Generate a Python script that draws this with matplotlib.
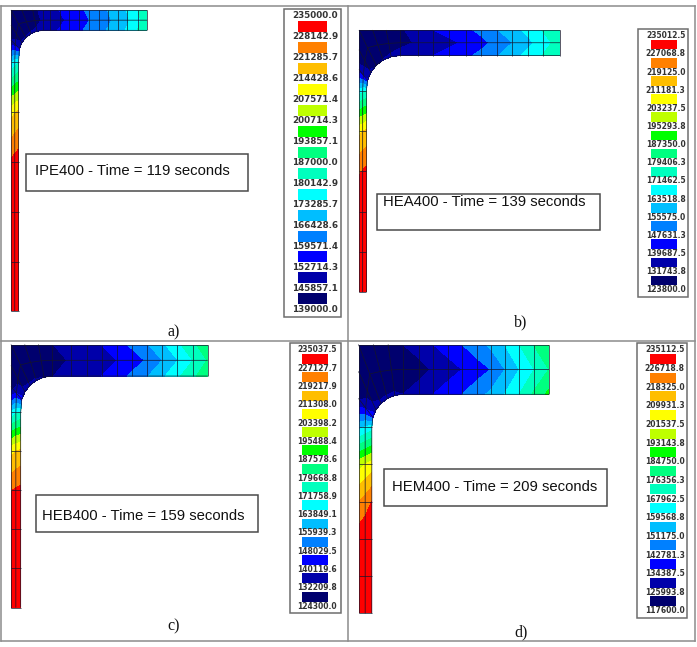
import numpy as np
import matplotlib
matplotlib.use("Agg")
import matplotlib.pyplot as plt
from matplotlib.patches import Rectangle

W, H = 697, 647

# Stress bands shared by all sections, low to high
BAND_COLORS = ["#00006e", "#0000aa", "#0000ff", "#0080ff", "#00beff", "#00ffff", "#00ffbe",
               "#00ff80", "#00ff00", "#beff00", "#ffff00", "#ffbe00", "#ff8000", "#ff0000"]

IPE_LEVELS = [235000.0, 228142.9, 221285.7, 214428.6, 207571.4, 200714.3, 193857.1, 187000.0,
              180142.9, 173285.7, 166428.6, 159571.4, 152714.3, 145857.1, 139000.0]
HEA_LEVELS = [235012.5, 227068.8, 219125.0, 211181.3, 203237.5, 195293.8, 187350.0, 179406.3,
              171462.5, 163518.8, 155575.0, 147631.3, 139687.5, 131743.8, 123800.0]
HEB_LEVELS = [235037.5, 227127.7, 219217.9, 211308.0, 203398.2, 195488.4, 187578.6, 179668.8,
              171758.9, 163849.1, 155939.3, 148029.5, 140119.6, 132209.8, 124300.0]
HEM_LEVELS = [235112.5, 226718.8, 218325.0, 209931.3, 201537.5, 193143.8, 184750.0, 176356.3,
              167962.5, 159568.8, 151175.0, 142781.3, 134387.5, 125993.8, 117600.0]

# Mesh stations in mm: web measured from the flange top, flange from the web axis
IPE_WEB_Y = [200.0, 167.3, 134.0, 101.3, 68.0, 34.7]
IPE_FLANGE_X = [26.0, 32.5, 38.7, 45.1, 51.8, 58.5, 64.2, 70.9, 77.1, 83.8, 90.0]
HEA_WEB_Y = [195.0, 164.9, 135.1, 105.2, 75.4, 45.5]
HEA_FLANGE_X = [44.3, 55.5, 67.4, 79.6, 90.8, 102.7, 114.4, 125.9, 137.5, 150.0]
HEB_WEB_Y = [200.0, 170.0, 140.3, 110.6, 81.0, 51.6]
HEB_FLANGE_X = [45.8, 57.8, 69.2, 80.7, 92.1, 104.1, 115.5, 127.0, 138.7, 150.0]
HEM_WEB_Y = [216.0, 185.9, 156.2, 126.3, 96.0, 66.3]
HEM_FLANGE_X = [48.9, 60.1, 71.6, 83.4, 94.9, 106.2, 117.7, 129.2, 141.2, 153.0]

# Nodal stress along the section: web foot, up the web, round the root, out to the flange tip.
# "outer" runs along the web axis and flange top, "inner" along the web face and flange underside.
IPE_OUTER = [235000, 235000, 235000, 229500, 212000, 173000,
             146000, 140000, 140000, 141000, 144000, 148000,
             151000, 153000, 155500, 158200, 161000, 164000, 166700, 170300, 173900, 180000, 185000]
IPE_MID = [235000, 235000, 235000, 231000, 214000, 177000,
           150000, 141000, 140000, 141000, 143000, 147000,
           149500, 151500, 154000, 156700, 159500, 162500, 165200, 168800, 172400, 178500, 183500]
IPE_INNER = [235000, 235000, 235000, 232500, 216000, 180000,
             153000, 146500, 146000, 146500, 147500, 149500,
             151300, 153300, 155800, 158500, 161300, 164300, 167000, 170600, 174200, 180300, 185300]

HEA_OUTER = [235000, 235000, 235000, 226000, 209000, 167000,
             134000, 126000, 125000, 126000, 127000, 130000,
             137000, 139700, 142500, 145500, 150000, 155000, 160000, 166000, 172000, 178000]
HEA_MID = [235000, 235000, 235000, 227500, 211000, 170000,
           138000, 127000, 125000, 126000, 128000, 130000,
           132500, 135000, 138000, 141000, 144500, 150500, 155500, 161000, 168000, 175000]
HEA_INNER = [235000, 235000, 235000, 229000, 213000, 172000,
             141000, 133000, 131000, 132000, 133000, 134000,
             137000, 139700, 142500, 145500, 150000, 155000, 160000, 166000, 172000, 178000]

HEB_OUTER = [235000, 235000, 235000, 226500, 209000, 165000,
             126000, 125000, 125000, 126000, 126000, 132000,
             135000, 138000, 140200, 144500, 149500, 155500, 162500, 170000, 178000, 185000]
HEB_MID = [235000, 235000, 235000, 228000, 211000, 170000,
           140000, 127000, 125000, 126000, 126000, 129500,
           133000, 135500, 137500, 140000, 144000, 149000, 156000, 163500, 171700, 180000]
HEB_INNER = [235000, 235000, 235000, 229000, 213000, 172000,
             143000, 135000, 133000, 133000, 132000, 132000,
             135000, 138000, 140200, 144500, 149500, 155500, 162500, 170000, 178000, 185000]

HEM_OUTER = [235000, 235000, 232000, 218000, 198000, 156000,
             125000, 119000, 118000, 118000, 119000, 126000,
             130000, 134400, 138500, 142800, 148000, 153000, 160000, 168000, 177000, 185000]
HEM_MID = [235000, 235000, 234000, 222000, 201500, 160000,
           133000, 120000, 118000, 119000, 120000, 120000,
           123000, 127000, 130500, 134500, 138500, 142800, 151200, 159600, 168000, 176400]
HEM_INNER = [235000, 235000, 235000, 227000, 205000, 164000,
             140000, 130000, 127000, 127000, 127000, 126000,
             130000, 134400, 138500, 142800, 148000, 153000, 160000, 168000, 178000, 187000]

PANELS = [
    dict(title="IPE400 - Time = 119 seconds", tag="a)", levels=IPE_LEVELS,
         web_y=IPE_WEB_Y, flange_x=IPE_FLANGE_X, outer=IPE_OUTER, mid=IPE_MID, inner=IPE_INNER,
         half_b=90.0, half_h=200.0, tf=13.5, tw=5.0, r=16.5, origin=(11, 10), px_mm=(1.511, 1.505),
         box=(25.5, 154, 222, 37), text=(35, 171), tag_xy=(174, 332),
         key=(283.5, 9, 57.5, 308), swatch_x=(297.7, 327.3), label_x=315, first_label=16, step=20.95,
         swatch_top=5, swatch_h=11, font=6.3),
    dict(title="HEA400 - Time = 139 seconds", tag="b)", levels=HEA_LEVELS,
         web_y=HEA_WEB_Y, flange_x=HEA_FLANGE_X, outer=HEA_OUTER, mid=HEA_MID, inner=HEA_INNER,
         half_b=150.0, half_h=195.0, tf=19.0, tw=5.5, r=25.0, origin=(359, 30), px_mm=(1.34, 1.344),
         box=(376.5, 194, 223, 36), text=(383, 202), tag_xy=(521, 322),
         key=(638.3, 29, 50, 267.5), swatch_x=(650.7, 676.7), label_x=665.7, first_label=35.7, step=18.16,
         swatch_top=4, swatch_h=9.7, font=5.5),
    dict(title="HEB400 - Time = 159 seconds", tag="c)", levels=HEB_LEVELS,
         web_y=HEB_WEB_Y, flange_x=HEB_FLANGE_X, outer=HEB_OUTER, mid=HEB_MID, inner=HEB_INNER,
         half_b=150.0, half_h=200.0, tf=24.0, tw=7.4, r=24.0, origin=(11, 344.5), px_mm=(1.311, 1.315),
         box=(35.5, 495, 222.5, 37), text=(42, 516), tag_xy=(174, 626),
         key=(290, 343.3, 50.7, 269.4), swatch_x=(302.3, 328.3), label_x=317, first_label=350, step=18.29,
         swatch_top=4, swatch_h=10, font=5.5),
    dict(title="HEM400 - Time = 209 seconds", tag="d)", levels=HEM_LEVELS,
         web_y=HEM_WEB_Y, flange_x=HEM_FLANGE_X, outer=HEM_OUTER, mid=HEM_MID, inner=HEM_INNER,
         half_b=153.0, half_h=216.0, tf=40.0, tw=10.7, r=25.0, origin=(358.5, 344.5), px_mm=(1.245, 1.245),
         box=(384, 469, 223, 37), text=(392, 487), tag_xy=(521, 632),
         key=(637.3, 342.5, 50, 275.5), swatch_x=(650, 676), label_x=664.7, first_label=350, step=18.64,
         swatch_top=4, swatch_h=10, font=5.5),
]


def section_mesh(p):
    """Curvilinear 3 x n node grid wrapped round the root fillet of a quarter section."""
    y_end, x_start = p["tf"] + p["r"], p["tw"] + p["r"]
    ox, oy, ix, iy = [], [], [], []
    for y in p["web_y"]:
        ox.append(0.0); oy.append(y); ix.append(p["tw"]); iy.append(y)
    for deg in (15, 30, 45, 60, 75, 90):
        a = np.radians(deg)
        ix.append(x_start - p["r"] * np.cos(a))
        iy.append(y_end - p["r"] * np.sin(a))
        if deg <= 45:
            ox.append(0.0); oy.append(y_end * (1 - deg / 45))
        else:
            ox.append(x_start * (deg - 45) / 45); oy.append(0.0)
    for x in p["flange_x"]:
        ox.append(x); oy.append(0.0); ix.append(x); iy.append(p["tf"])
    ox, oy, ix, iy = map(np.array, (ox, oy, ix, iy))
    X = np.vstack([ox, (ox + ix) / 2, ix])
    Y = np.vstack([oy, (oy + iy) / 2, iy])
    return X, Y


fig = plt.figure(figsize=(W / 100, H / 100), dpi=100, facecolor="white")

# Full-figure layer in pixel units for the table rules, keys and captions
page = fig.add_axes([0, 0, 1, 1])
page.set_xlim(0, W)
page.set_ylim(H, 0)
page.axis("off")

RULE = "#8c8c8c"
for x in (0.7, 347.5, 694.5):
    page.plot([x, x], [6, 641], color=RULE, lw=1.1)
for y in (6, 340.5, 641):
    page.plot([0.7, 694.5], [y, y], color=RULE, lw=1.1)

for p in PANELS:
    px, py = p["origin"]
    w_px, h_px = p["half_b"] * p["px_mm"][0], p["half_h"] * p["px_mm"][1]
    ax = fig.add_axes([px / W, 1 - (py + h_px) / H, w_px / W, h_px / H])
    ax.set_xlim(0, p["half_b"])
    ax.set_ylim(p["half_h"], 0)
    ax.axis("off")

    levels = np.array(p["levels"][::-1])
    X, Y = section_mesh(p)
    Z = np.clip(np.vstack([p["outer"], p["mid"], p["inner"]]).astype(float), levels[0] + 1, levels[-1] - 1)
    ax.contourf(X, Y, Z, levels=levels, colors=BAND_COLORS)
    for row in range(X.shape[0]):
        ax.plot(X[row], Y[row], color="#15152a", lw=0.5, clip_on=False, solid_capstyle="butt")
    for col in range(X.shape[1]):
        ax.plot(X[:, col], Y[:, col], color="#15152a", lw=0.5, clip_on=False, solid_capstyle="butt")

    # Caption box inside the panel
    bx, by, bw, bh = p["box"]
    page.add_patch(Rectangle((bx, by), bw, bh, fill=False, ec="#4a4a4a", lw=1.1))
    page.text(p["text"][0], p["text"][1], p["title"], family="Liberation Sans", fontsize=10.7,
              color="#111111", ha="left", va="center")
    page.text(p["tag_xy"][0], p["tag_xy"][1], p["tag"], family="Liberation Serif", fontsize=11.5,
              color="#111111", ha="center", va="center")

    # Colour key: one label per level, swatches between them
    kx, ky, kw, kh = p["key"]
    page.add_patch(Rectangle((kx, ky), kw, kh, fill=False, ec="#6e6e6e", lw=1.1))
    for i, value in enumerate(p["levels"]):
        y = p["first_label"] + i * p["step"]
        page.text(p["label_x"], y, f"{value:.1f}", family="DejaVu Sans", weight="bold",
                  fontsize=p["font"], color="#333333", ha="center", va="center")
        if i < len(BAND_COLORS):
            sx0, sx1 = p["swatch_x"]
            page.add_patch(Rectangle((sx0, y + p["swatch_top"]), sx1 - sx0, p["swatch_h"],
                                     fc=BAND_COLORS[::-1][i], ec="none"))

fig.savefig("out.png", dpi=100)
